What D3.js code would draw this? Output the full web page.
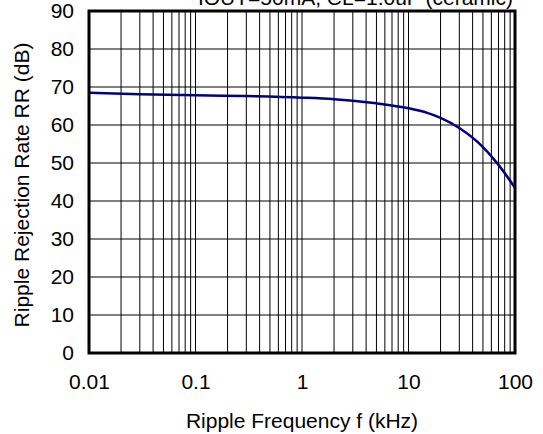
<!DOCTYPE html>
<html>
<head>
<meta charset="utf-8">
<style>
body { margin: 0; background: #fff; }
text { font-family: Arial, 'Liberation Sans', sans-serif; fill: #000; }
</style>
</head>
<body>
<svg width="543" height="434"></svg>
<script src="https://d3js.org/d3.v7.min.js"></script>
<script>
// curve (kHz, dB)
var freq = [0.01, 0.03, 0.1, 0.3, 1, 2, 3, 5, 10, 15, 20, 30, 50, 70, 100];
var rr   = [68.5, 68.1, 67.8, 67.6, 67.2, 66.8, 66.4, 65.7, 64.4, 63.2, 61.9, 59.2, 54.2, 49.5, 43.5];
var xTicks = [0.01, 0.1, 1, 10, 100];
var yTicks = [0, 10, 20, 30, 40, 50, 60, 70, 80, 90];

var svg = d3.select("svg"),
    margin = {top: 11, right: 28, bottom: 81, left: 89},
    width = 543 - margin.left - margin.right,
    height = 434 - margin.top - margin.bottom,
    g = svg.append("g").attr("transform", "translate(" + margin.left + "," + margin.top + ")");

var x = d3.scaleLog().domain([0.01, 100]).range([0, width]);
var y = d3.scaleLinear().domain([0, 90]).range([height, 0]);

// grid: minor lines for 2..9 in each decade plus decades
var gridX = [];
xTicks.slice(0, -1).forEach(function(d) {
  for (var k = 1; k < 10; k++) gridX.push(d * k);
});

g.append("g")
  .selectAll("line")
  .data(gridX)
  .enter().append("line")
    .attr("x1", function(d) { return x(d); })
    .attr("x2", function(d) { return x(d); })
    .attr("y1", 0)
    .attr("y2", height)
    .attr("stroke", "#000")
    .attr("stroke-width", 1);

g.append("g")
  .selectAll("line")
  .data(yTicks)
  .enter().append("line")
    .attr("x1", 0)
    .attr("x2", width)
    .attr("y1", function(d) { return y(d); })
    .attr("y2", function(d) { return y(d); })
    .attr("stroke", "#000")
    .attr("stroke-width", 1);

// the curve
var line = d3.line()
    .x(function(d, i) { return x(freq[i]); })
    .y(function(d) { return y(d); })
    .curve(d3.curveMonotoneX);

g.append("path")
  .datum(rr)
  .attr("fill", "none")
  .attr("stroke", "#000080")
  .attr("stroke-width", 2.5)
  .attr("d", line);

// frame
g.append("rect")
  .attr("width", width)
  .attr("height", height)
  .attr("fill", "none")
  .attr("stroke", "#000")
  .attr("stroke-width", 3);

// axes (labels only)
var xAxis = g.append("g")
  .attr("transform", "translate(0," + height + ")")
  .call(d3.axisBottom(x).tickValues(xTicks).tickFormat(function(d) { return d; }).tickSize(0).tickPadding(21));
xAxis.select(".domain").remove();
xAxis.selectAll("text").style("font-size", "21px");

var yAxis = g.append("g")
  .call(d3.axisLeft(y).tickValues(yTicks).tickSize(0).tickPadding(15));
yAxis.select(".domain").remove();
yAxis.selectAll("text").style("font-size", "21px");

svg.append("text")
  .attr("x", 302)
  .attr("y", 428)
  .attr("text-anchor", "middle")
  .style("font-size", "21px")
  .text("Ripple Frequency f (kHz)");

svg.append("text")
  .attr("transform", "translate(29,185) rotate(-90)")
  .attr("text-anchor", "middle")
  .style("font-size", "21px")
  .text("Ripple Rejection Rate RR (dB)");

svg.append("text")
  .attr("x", 513)
  .attr("y", 5)
  .attr("text-anchor", "end")
  .style("font-size", "21px")
  .text("IOUT=50mA, CL=1.0uF  (ceramic)");
</script>
</body>
</html>
